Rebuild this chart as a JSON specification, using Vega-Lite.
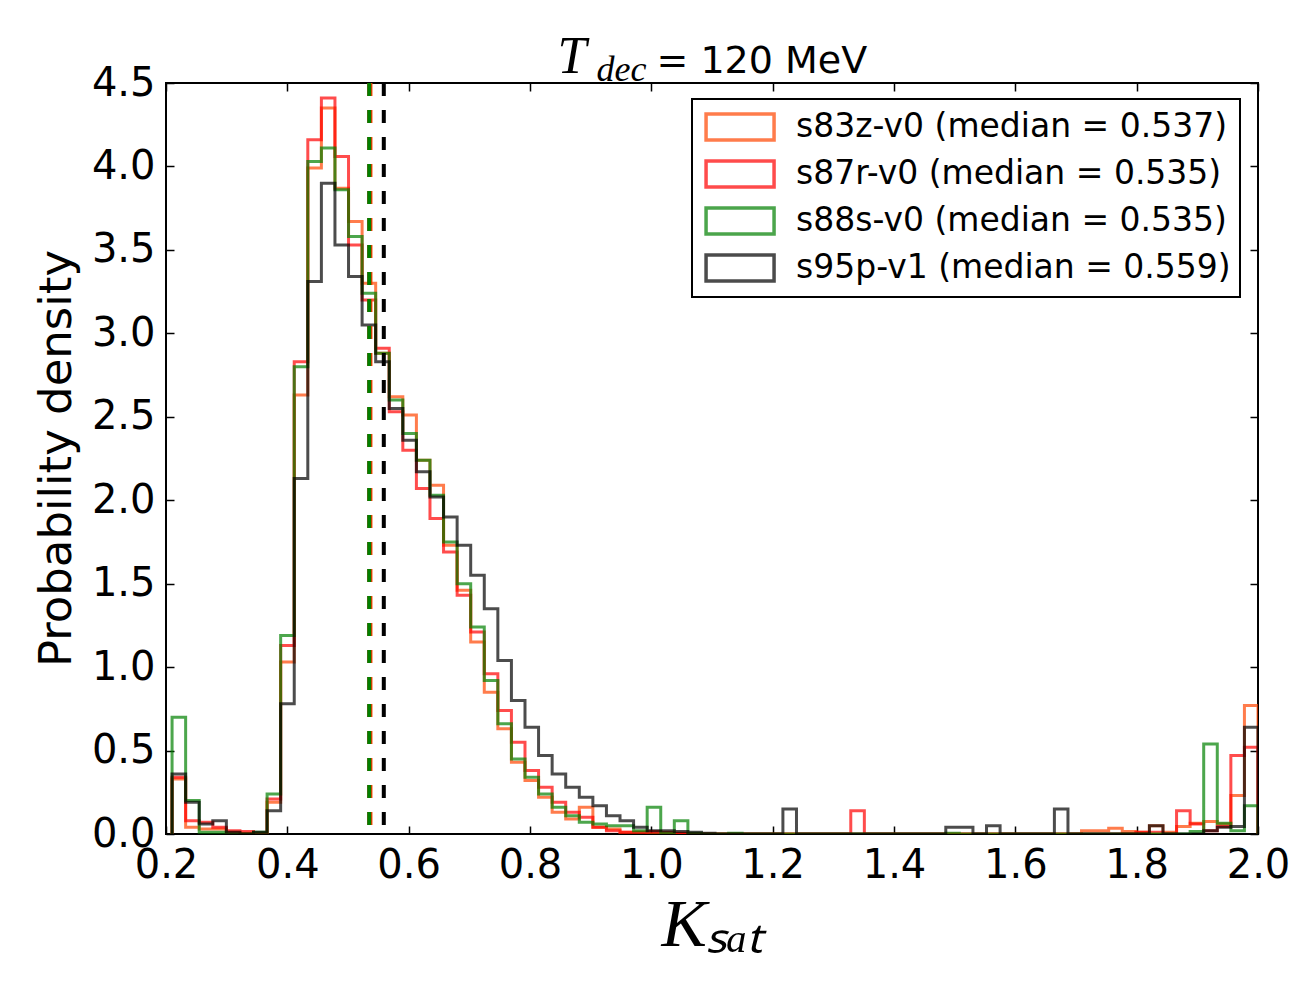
{
  "$schema": "https://vega.github.io/schema/vega-lite/v6.json",
  "width": 1092,
  "height": 751,
  "autosize": {"type": "none"},
  "padding": {"left": 166, "top": 83, "right": 50, "bottom": 148},
  "background": "white",
  "config": {
    "font": "DejaVu Sans",
    "view": {"stroke": "black", "strokeWidth": 2},
    "axis": {"grid": false, "domain": false, "tickColor": "black", "tickWidth": 1.5, "labelColor": "black", "titleColor": "black", "titleFontWeight": "normal", "labelFont": "DejaVu Sans"}
  },
  "datasets": {
    "hist": [
      {"i": 0, "x": 0.21, "a": 0, "b": 0, "c": 0, "d": 0},
      {"i": 1, "x": 0.21, "a": 0.33, "b": 0.34, "c": 0.70, "d": 0.36},
      {"i": 2, "x": 0.232375, "a": 0.04, "b": 0.08, "c": 0.20, "d": 0.19},
      {"i": 3, "x": 0.25475, "a": 0.03, "b": 0.07, "c": 0.01, "d": 0.06},
      {"i": 4, "x": 0.277125, "a": 0.03, "b": 0.04, "c": 0.01, "d": 0.08},
      {"i": 5, "x": 0.2995, "a": 0.01, "b": 0.02, "c": 0, "d": 0.01},
      {"i": 6, "x": 0.321875, "a": 0.005, "b": 0.015, "c": 0, "d": 0},
      {"i": 7, "x": 0.34425, "a": 0, "b": 0, "c": 0.01, "d": 0.01},
      {"i": 8, "x": 0.366625, "a": 0.19, "b": 0.21, "c": 0.24, "d": 0.14},
      {"i": 9, "x": 0.389, "a": 1.03, "b": 1.13, "c": 1.19, "d": 0.78},
      {"i": 10, "x": 0.411375, "a": 2.63, "b": 2.83, "c": 2.80, "d": 2.13},
      {"i": 11, "x": 0.43375, "a": 3.99, "b": 4.16, "c": 4.03, "d": 3.31},
      {"i": 12, "x": 0.456125, "a": 4.35, "b": 4.41, "c": 4.11, "d": 3.90},
      {"i": 13, "x": 0.4785, "a": 3.87, "b": 4.06, "c": 3.86, "d": 3.53},
      {"i": 14, "x": 0.500875, "a": 3.67, "b": 3.53, "c": 3.58, "d": 3.34},
      {"i": 15, "x": 0.52325, "a": 3.30, "b": 3.20, "c": 3.24, "d": 3.05},
      {"i": 16, "x": 0.545625, "a": 2.88, "b": 2.91, "c": 2.88, "d": 2.83},
      {"i": 17, "x": 0.568, "a": 2.62, "b": 2.53, "c": 2.60, "d": 2.55},
      {"i": 18, "x": 0.590375, "a": 2.51, "b": 2.30, "c": 2.40, "d": 2.36},
      {"i": 19, "x": 0.61275, "a": 2.24, "b": 2.07, "c": 2.24, "d": 2.17},
      {"i": 20, "x": 0.635125, "a": 2.09, "b": 1.89, "c": 2.03, "d": 2.02},
      {"i": 21, "x": 0.6575, "a": 1.73, "b": 1.69, "c": 1.75, "d": 1.90},
      {"i": 22, "x": 0.679875, "a": 1.46, "b": 1.43, "c": 1.50, "d": 1.73},
      {"i": 23, "x": 0.70225, "a": 1.15, "b": 1.21, "c": 1.24, "d": 1.55},
      {"i": 24, "x": 0.724625, "a": 0.85, "b": 0.96, "c": 0.92, "d": 1.35},
      {"i": 25, "x": 0.747, "a": 0.63, "b": 0.74, "c": 0.66, "d": 1.04},
      {"i": 26, "x": 0.769375, "a": 0.43, "b": 0.55, "c": 0.45, "d": 0.80},
      {"i": 27, "x": 0.79175, "a": 0.32, "b": 0.38, "c": 0.34, "d": 0.64},
      {"i": 28, "x": 0.814125, "a": 0.22, "b": 0.28, "c": 0.24, "d": 0.47},
      {"i": 29, "x": 0.8365, "a": 0.13, "b": 0.19, "c": 0.16, "d": 0.36},
      {"i": 30, "x": 0.858875, "a": 0.09, "b": 0.13, "c": 0.11, "d": 0.28},
      {"i": 31, "x": 0.88125, "a": 0.16, "b": 0.10, "c": 0.07, "d": 0.22},
      {"i": 32, "x": 0.903625, "a": 0.04, "b": 0.04, "c": 0.06, "d": 0.17},
      {"i": 33, "x": 0.926, "a": 0.03, "b": 0.02, "c": 0.05, "d": 0.11},
      {"i": 34, "x": 0.948375, "a": 0.01, "b": 0.01, "c": 0.05, "d": 0.08},
      {"i": 35, "x": 0.97075, "a": 0.01, "b": 0.01, "c": 0.02, "d": 0.04},
      {"i": 36, "x": 0.993125, "a": 0.005, "b": 0.015, "c": 0.16, "d": 0.02},
      {"i": 37, "x": 1.0155, "a": 0.005, "b": 0.01, "c": 0.005, "d": 0.02},
      {"i": 38, "x": 1.037875, "a": 0.005, "b": 0.005, "c": 0.08, "d": 0.015},
      {"i": 39, "x": 1.06025, "a": 0, "b": 0, "c": 0.005, "d": 0.01},
      {"i": 40, "x": 1.082625, "a": 0, "b": 0, "c": 0, "d": 0.005},
      {"i": 41, "x": 1.105, "a": 0, "b": 0, "c": 0, "d": 0},
      {"i": 42, "x": 1.127375, "a": 0, "b": 0, "c": 0.005, "d": 0},
      {"i": 43, "x": 1.14975, "a": 0, "b": 0, "c": 0, "d": 0},
      {"i": 44, "x": 1.172125, "a": 0, "b": 0, "c": 0, "d": 0},
      {"i": 45, "x": 1.1945, "a": 0, "b": 0, "c": 0, "d": 0},
      {"i": 46, "x": 1.216875, "a": 0, "b": 0, "c": 0, "d": 0.15},
      {"i": 47, "x": 1.23925, "a": 0, "b": 0, "c": 0, "d": 0},
      {"i": 48, "x": 1.261625, "a": 0, "b": 0, "c": 0, "d": 0},
      {"i": 49, "x": 1.284, "a": 0, "b": 0, "c": 0, "d": 0},
      {"i": 50, "x": 1.306375, "a": 0, "b": 0, "c": 0, "d": 0},
      {"i": 51, "x": 1.32875, "a": 0, "b": 0.14, "c": 0, "d": 0},
      {"i": 52, "x": 1.351125, "a": 0, "b": 0, "c": 0, "d": 0},
      {"i": 53, "x": 1.3735, "a": 0, "b": 0, "c": 0, "d": 0},
      {"i": 54, "x": 1.395875, "a": 0, "b": 0, "c": 0, "d": 0},
      {"i": 55, "x": 1.41825, "a": 0, "b": 0, "c": 0, "d": 0},
      {"i": 56, "x": 1.440625, "a": 0, "b": 0, "c": 0, "d": 0},
      {"i": 57, "x": 1.463, "a": 0, "b": 0, "c": 0, "d": 0},
      {"i": 58, "x": 1.485375, "a": 0, "b": 0, "c": 0.005, "d": 0.04},
      {"i": 59, "x": 1.50775, "a": 0, "b": 0, "c": 0, "d": 0.04},
      {"i": 60, "x": 1.530125, "a": 0, "b": 0, "c": 0, "d": 0},
      {"i": 61, "x": 1.5525, "a": 0, "b": 0, "c": 0, "d": 0.05},
      {"i": 62, "x": 1.574875, "a": 0, "b": 0, "c": 0, "d": 0},
      {"i": 63, "x": 1.59725, "a": 0, "b": 0, "c": 0, "d": 0},
      {"i": 64, "x": 1.619625, "a": 0, "b": 0, "c": 0, "d": 0},
      {"i": 65, "x": 1.642, "a": 0, "b": 0, "c": 0, "d": 0},
      {"i": 66, "x": 1.664375, "a": 0, "b": 0, "c": 0, "d": 0.15},
      {"i": 67, "x": 1.68675, "a": 0, "b": 0, "c": 0, "d": 0},
      {"i": 68, "x": 1.709125, "a": 0.02, "b": 0, "c": 0, "d": 0},
      {"i": 69, "x": 1.7315, "a": 0.02, "b": 0, "c": 0, "d": 0},
      {"i": 70, "x": 1.753875, "a": 0.035, "b": 0, "c": 0, "d": 0},
      {"i": 71, "x": 1.77625, "a": 0.015, "b": 0, "c": 0, "d": 0},
      {"i": 72, "x": 1.798625, "a": 0.01, "b": 0.01, "c": 0, "d": 0},
      {"i": 73, "x": 1.821, "a": 0.05, "b": 0.01, "c": 0, "d": 0.05},
      {"i": 74, "x": 1.843375, "a": 0.01, "b": 0, "c": 0, "d": 0},
      {"i": 75, "x": 1.86575, "a": 0.045, "b": 0.14, "c": 0, "d": 0},
      {"i": 76, "x": 1.888125, "a": 0.065, "b": 0.06, "c": 0.015, "d": 0},
      {"i": 77, "x": 1.9105, "a": 0.075, "b": 0.02, "c": 0.54, "d": 0.02},
      {"i": 78, "x": 1.932875, "a": 0.06, "b": 0.045, "c": 0.065, "d": 0.04},
      {"i": 79, "x": 1.95525, "a": 0.23, "b": 0.47, "c": 0.02, "d": 0.045},
      {"i": 80, "x": 1.977625, "a": 0.77, "b": 0.52, "c": 0.17, "d": 0.64},
      {"i": 81, "x": 2.0, "a": 0.77, "b": 0.52, "c": 0.17, "d": 0.64},
      {"i": 82, "x": 2.0, "a": 0, "b": 0, "c": 0, "d": 0}
    ],
    "med": [
      {"key": "a", "m": 0.537},
      {"key": "b", "m": 0.535},
      {"key": "c", "m": 0.535},
      {"key": "d", "m": 0.559}
    ]
  },
  "resolve": {"axis": {"x": "independent", "y": "independent"}, "legend": {"color": "independent"}},
  "layer": [
    {
      "data": {"name": "hist"},
      "transform": [{"fold": ["a", "b", "c", "d"], "as": ["key", "value"]}],
      "mark": {"type": "line", "interpolate": "step-after", "strokeWidth": 3, "strokeOpacity": 0.7, "clip": true},
      "encoding": {
        "x": {
          "field": "x", "type": "quantitative",
          "scale": {"domain": [0.2, 2.0], "nice": false, "zero": false},
          "axis": {
            "orient": "bottom",
            "values": [0.2, 0.4, 0.6, 0.8, 1.0, 1.2, 1.4, 1.6, 1.8, 2.0],
            "format": ".1f",
            "labelFontSize": 40,
            "labelPadding": 19,
            "labelFlush": false,
            "labelOverlap": false,
            "tickSize": -8,
            "title": "Kₛₐₜ",
            "titleFont": "Liberation Serif",
            "titleFontStyle": "italic",
            "titleFontSize": 68,
            "titleBaseline": "alphabetic",
            "titleY": 111,
            "titleX": 546
          }
        },
        "y": {
          "field": "value", "type": "quantitative",
          "scale": {"domain": [0, 4.5], "nice": false},
          "axis": {
            "orient": "left",
            "values": [0, 0.5, 1.0, 1.5, 2.0, 2.5, 3.0, 3.5, 4.0, 4.5],
            "format": ".1f",
            "labelFontSize": 40,
            "labelPadding": 19,
            "labelFlush": false,
            "labelOverlap": false,
            "tickSize": -8,
            "title": "Probability density",
            "titleFontSize": 45,
            "titleFont": "DejaVu Sans",
            "titleBaseline": "alphabetic",
            "titleX": -96,
            "titleY": 375
          }
        },
        "color": {
          "field": "key", "type": "nominal",
          "scale": {"domain": ["a", "b", "c", "d"], "range": ["#ff4500", "#ff0000", "#008000", "#000000"]},
          "legend": {
            "orient": "none",
            "legendX": 526,
            "legendY": 16,
            "title": null,
            "strokeColor": "black",
            "fillColor": "white",
            "padding": 9,
            "symbolType": "M-0.82,-0.76H3.18V0.76H-0.82Z",
            "symbolSize": 1156,
            "symbolStrokeWidth": 3.5,
            "symbolFillColor": "transparent",
            "symbolOpacity": 0.7,
            "labelFontSize": 33,
            "labelFont": "DejaVu Sans",
            "labelColor": "black",
            "labelOffset": 57,
            "labelLimit": 1000,
            "rowPadding": 7,
            "labelExpr": "datum.label == 'a' ? 's83z-v0 (median = 0.537)' : datum.label == 'b' ? 's87r-v0 (median = 0.535)' : datum.label == 'c' ? 's88s-v0 (median = 0.535)' : 's95p-v1 (median = 0.559)'",
            "encode": {"legend": {"update": {"strokeWidth": {"value": 2}}}}
          }
        },
        "order": {"field": "i", "type": "quantitative"}
      }
    },
    {
      "data": {"name": "med"},
      "mark": {"type": "rule", "strokeWidth": 4, "strokeDash": [13, 14]},
      "encoding": {
        "x": {
          "field": "m", "type": "quantitative",
          "axis": {
            "orient": "top",
            "values": [0.2, 0.4, 0.6, 0.8, 1.0, 1.2, 1.4, 1.6, 1.8, 2.0],
            "labels": false,
            "tickSize": -8,
            "title": "T",
            "titleFont": "Liberation Serif",
            "titleFontStyle": "italic",
            "titleFontSize": 52,
            "titleAlign": "left",
            "titleBaseline": "alphabetic",
            "titleX": 391,
            "titleY": -11
          }
        },
        "color": {"field": "key", "type": "nominal", "legend": null}
      }
    },
    {
      "data": {"name": "hist"},
      "transform": [{"fold": ["a", "b", "c", "d"], "as": ["key", "value"]}],
      "mark": {"type": "line", "interpolate": "step-after", "strokeWidth": 1, "strokeOpacity": 0, "clip": true},
      "encoding": {
        "x": {
          "field": "x", "type": "quantitative",
          "axis": {
            "orient": "top",
            "ticks": false,
            "labels": false,
            "title": "= 120 MeV",
            "titleFont": "DejaVu Sans",
            "titleFontSize": 38,
            "titleAlign": "left",
            "titleBaseline": "alphabetic",
            "titleX": 490,
            "titleY": -11
          }
        },
        "y": {
          "field": "value", "type": "quantitative",
          "axis": {
            "orient": "right",
            "values": [0, 0.5, 1.0, 1.5, 2.0, 2.5, 3.0, 3.5, 4.0, 4.5],
            "labels": false,
            "tickSize": -8,
            "title": "dec",
            "titleAngle": 0,
            "titleFont": "Liberation Serif",
            "titleFontStyle": "italic",
            "titleFontSize": 36,
            "titleAlign": "left",
            "titleBaseline": "alphabetic",
            "titleX": -662,
            "titleY": -3
          }
        },
        "detail": {"field": "key", "type": "nominal"},
        "order": {"field": "i", "type": "quantitative"}
      }
    }
  ]
}
